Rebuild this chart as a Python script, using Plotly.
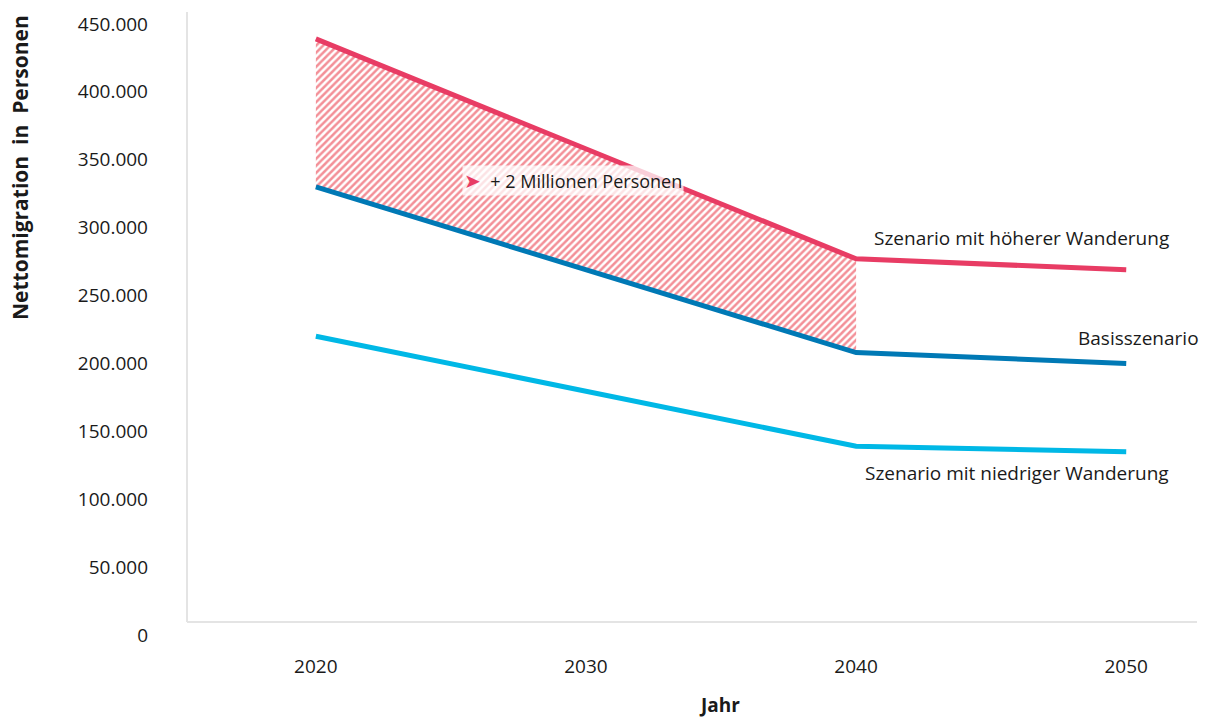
import plotly.graph_objects as go

years = [2020, 2040, 2050]
hoch = [439000, 277000, 269000]
basis = [330000, 208000, 200000]
niedrig = [220000, 139000, 135000]
y_ticks = [0, 50000, 100000, 150000, 200000, 250000, 300000, 350000, 400000, 450000]
x_ticks = [2020, 2030, 2040, 2050]

RED = "#e83c64"
BLUE = "#0079b5"
CYAN = "#00b8e6"
TXT = "#1a1a1a"
FONT = "Open Sans"

fig = go.Figure()

# hatched area between high and basis scenario (2020-2040)
fig.add_trace(go.Scatter(x=years[:2], y=basis[:2], mode="lines",
                         line=dict(width=0, color="rgba(0,0,0,0)"), hoverinfo="skip"))
fig.add_trace(go.Scatter(x=years[:2], y=hoch[:2], mode="lines", fill="tonexty",
                         line=dict(width=0, color="rgba(0,0,0,0)"),
                         fillcolor="rgba(255,255,255,0)",
                         fillpattern=dict(shape="/", fgcolor="#e8202f", bgcolor="rgba(255,255,255,0)",
                                          size=5, solidity=0.5),
                         hoverinfo="skip"))

for vals, col in [(niedrig, CYAN), (basis, BLUE), (hoch, RED)]:
    fig.add_trace(go.Scatter(x=years, y=vals, mode="lines",
                             line=dict(color=col, width=5), hoverinfo="skip"))

annots = [
    dict(x=2050, y=hoch[2], text="Szenario mit höherer Wanderung", xanchor="right",
         xshift=45, yshift=32),
    dict(x=2050, y=basis[2], text="Basisszenario", xanchor="right", xshift=75, yshift=25),
    dict(x=2050, y=niedrig[2], text="Szenario mit niedriger Wanderung", xanchor="right",
         xshift=45, yshift=-21),
]
for a in annots:
    fig.add_annotation(xref="x", yref="y", showarrow=False, yanchor="middle",
                       font=dict(family=FONT, size=19, color=TXT), **a)

fig.add_annotation(xref="x", yref="y", x=2025.4, y=335000, xanchor="left", yanchor="middle",
                   showarrow=False, bgcolor="rgba(255,255,255,0.75)",
                   text=f"<span style='color:{RED};font-size:20px'>➤</span>  + 2 Millionen Personen",
                   font=dict(family=FONT, size=18, color=TXT))

fig.add_annotation(xref="paper", yref="paper", x=0.5277, y=-0.1124, showarrow=False,
                   xanchor="center", yanchor="middle",
                   text="<b>Jahr</b>", font=dict(family=FONT, size=19, color=TXT))
fig.add_annotation(xref="paper", yref="paper", x=-0.1653, y=0.7496, showarrow=False,
                   xanchor="center", yanchor="middle",
                   textangle=-90, text="<b>Nettomigration  in  Personen</b>",
                   font=dict(family=FONT, size=21, color=TXT))

# axis frame lines (light grey)
fig.add_shape(type="line", xref="paper", yref="paper", x0=0, x1=0, y0=0.0209, y1=1,
              line=dict(color="#e4e4e4", width=2))
fig.add_shape(type="line", xref="paper", yref="paper", x0=0, x1=1, y0=0.0209, y1=0.0209,
              line=dict(color="#e4e4e4", width=2))

fig.update_layout(
    width=1207, height=717,
    margin=dict(l=187, r=10, t=12, b=82),
    paper_bgcolor="white", plot_bgcolor="white",
    showlegend=False,
    separators=",.",
    font=dict(family=FONT, size=19, color=TXT),
    xaxis=dict(range=[2015.23, 2052.62], tickvals=x_ticks, showgrid=False, zeroline=False,
               showline=False, ticks="", ticklabelstandoff=18,
               tickfont=dict(family=FONT, size=19, color=TXT)),
    yaxis=dict(range=[0, 458800], tickvals=y_ticks, tickformat=",d", showgrid=False,
               zeroline=False, showline=False, ticks="", ticklabelstandoff=38,
               tickfont=dict(family=FONT, size=19, color=TXT)),
)

fig.write_html("out.html")
